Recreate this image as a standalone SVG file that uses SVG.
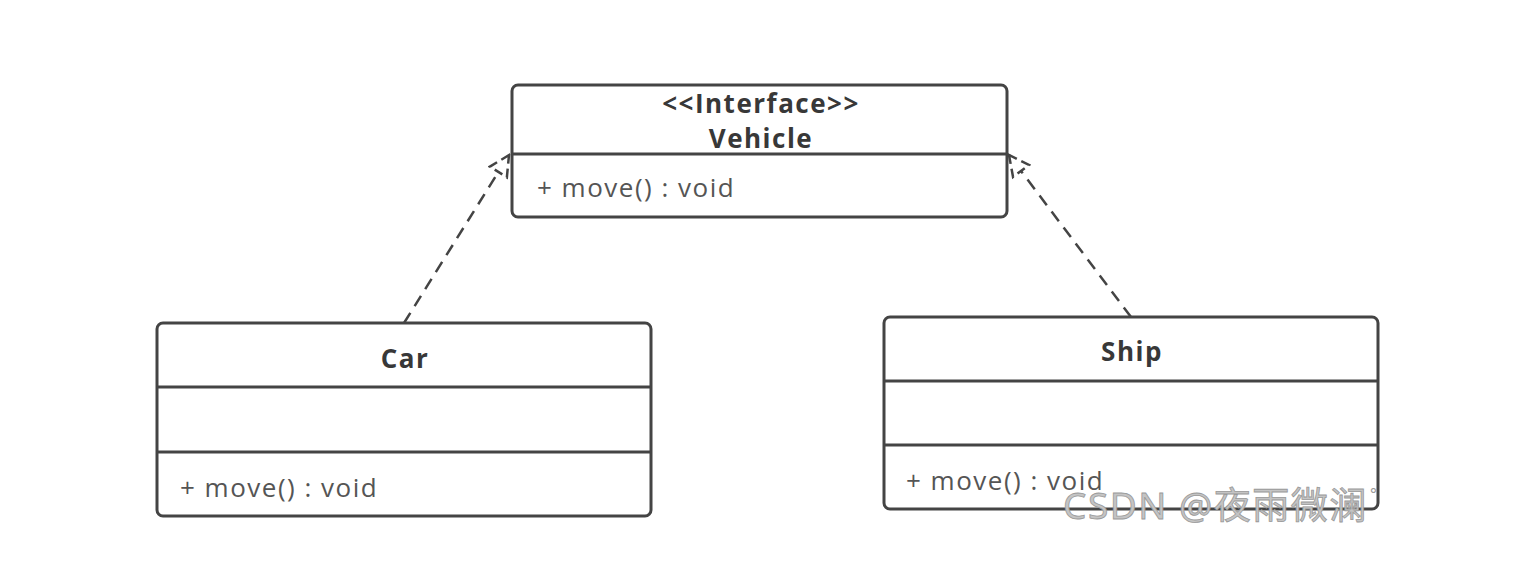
<svg xmlns="http://www.w3.org/2000/svg" width="1536" height="580" viewBox="0 0 1536 580">
<style>
.box{fill:#fff;stroke:#444;stroke-width:3}
.div{stroke:#444;stroke-width:3}
.title{font-family:"Open Sans","Noto Sans",sans-serif;font-weight:bold;font-size:26px;letter-spacing:1.5px;fill:#383838;text-anchor:middle}
.meth{font-family:"Open Sans","Noto Sans",sans-serif;font-size:26px;letter-spacing:1.5px;fill:#555}
.conn{fill:none;stroke:#444;stroke-width:2.5;stroke-dasharray:12 8}
.wm{font-family:"Noto Sans","Noto Sans CJK SC",sans-serif;font-size:37px;letter-spacing:1.5px;fill:#c4c4c4;stroke:#999;stroke-width:0.8}
</style>
<defs>
<marker id="tri" viewBox="0 0 24 24" refX="22" refY="12" markerWidth="24" markerHeight="24" markerUnits="userSpaceOnUse" orient="auto">
<path d="M22,12 L2,2 L2,22 Z" fill="#fff" stroke="#444" stroke-width="2.5" stroke-dasharray="9 5"/>
</marker>
</defs>
<rect width="1536" height="580" fill="#fff"/>
<g id="connectors">
<line class="conn" x1="404" y1="323" x2="509" y2="155" marker-end="url(#tri)"/>
<line class="conn" x1="1131" y1="317" x2="1009" y2="155" marker-end="url(#tri)"/>
</g>
<g id="vehicle">
<rect class="box" x="512" y="85" width="495" height="132" rx="6"/>
<line class="div" x1="512" y1="154" x2="1007" y2="154"/>
<text class="title" x="761" y="113">&lt;&lt;Interface&gt;&gt;</text>
<text class="title" x="761" y="148">Vehicle</text>
<text class="meth" x="537" y="197">+ move() : void</text>
</g>
<g id="car">
<rect class="box" x="157" y="323" width="494" height="193" rx="6"/>
<line class="div" x1="157" y1="387" x2="651" y2="387"/>
<line class="div" x1="157" y1="452" x2="651" y2="452"/>
<text class="title" x="405" y="368">Car</text>
<text class="meth" x="180" y="497">+ move() : void</text>
</g>
<g id="ship">
<rect class="box" x="884" y="317" width="494" height="192" rx="6"/>
<line class="div" x1="884" y1="381" x2="1378" y2="381"/>
<line class="div" x1="884" y1="445" x2="1378" y2="445"/>
<text class="title" x="1132" y="361">Ship</text>
<text class="meth" x="906" y="490">+ move() : void</text>
</g>
<text class="wm" x="1063" y="519">CSDN @夜雨微澜</text>
<text x="1370" y="500" font-family="Noto Sans, sans-serif" font-size="16" fill="#999">°</text>
</svg>
